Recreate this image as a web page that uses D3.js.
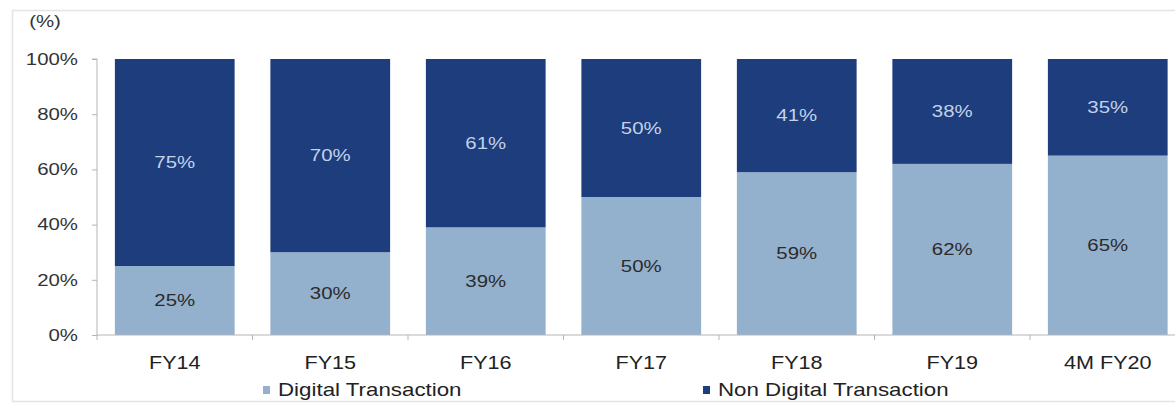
<!DOCTYPE html>
<html>
<head>
<meta charset="utf-8">
<script src="https://cdn.jsdelivr.net/npm/d3@7"></script>
<style>
  html, body { margin: 0; padding: 0; background: #fff; }
  svg { display: block; }
  text { font-family: "Liberation Sans", Arial, sans-serif; }
</style>
</head>
<body>
<svg id="chart" width="1175" height="405"></svg>
<script>
// Share of transactions by channel
const categories = ["FY14", "FY15", "FY16", "FY17", "FY18", "FY19", "4M FY20"];
const digital    = [25, 30, 39, 50, 59, 62, 65];
const nonDigital = [75, 70, 61, 50, 41, 38, 35];
const yTicks     = [0, 20, 40, 60, 80, 100];
const seriesNames = ["Digital Transaction", "Non Digital Transaction"];
const colors = { digital: "#93b0cd", nonDigital: "#1d3d7c" };

const svg = d3.select("#chart");
const W = 1175, H = 405;
const SX = 1.2; // horizontal text stretch
const FS = 18;

// outer frame
svg.append("rect")
  .attr("x", 12.5).attr("y", 10.5)
  .attr("width", W).attr("height", 391)
  .attr("fill", "none").attr("stroke", "#e4e4e4").attr("stroke-width", 1.5);

const m = { left: 97, top: 59, bottom: 335 };
const step = 155.5;
const x = d3.scaleBand()
  .domain(categories)
  .range([m.left, m.left + step * categories.length])
  .paddingInner(0.23).paddingOuter(0.115);
const y = d3.scaleLinear().domain([0, 100]).range([m.bottom, m.top]);

function stretchedText(g, tx, ty, txt, anchor, size, fill, sx) {
  return g.append("text")
    .attr("transform", `translate(${tx},${ty}) scale(${sx || SX},1)`)
    .attr("text-anchor", anchor)
    .attr("dominant-baseline", "central")
    .attr("font-size", size)
    .attr("fill", fill)
    .text(txt);
}

const rows = categories.map((c, i) => ({ cat: c, digital: digital[i], nonDigital: nonDigital[i] }));
const stack = d3.stack().keys(["digital", "nonDigital"])(rows);

const gBars = svg.append("g");
stack.forEach(layer => {
  gBars.selectAll(null).data(layer).enter().append("rect")
    .attr("x", d => x(d.data.cat))
    .attr("width", x.bandwidth())
    .attr("y", d => y(d[1]))
    .attr("height", d => y(d[0]) - y(d[1]))
    .attr("fill", colors[layer.key]);
});

// value labels
const gLab = svg.append("g");
stack.forEach(layer => {
  layer.forEach(d => {
    const v = d.data[layer.key];
    stretchedText(gLab, x(d.data.cat) + x.bandwidth() / 2, (y(d[0]) + y(d[1])) / 2,
      v + "%", "middle", 17, layer.key === "digital" ? "#2b2b2b" : "#c3d2ea");
  });
});

// y axis
const yAxis = d3.axisLeft(y).tickValues(yTicks).tickSize(5).tickFormat(d => d + "%");
const gy = svg.append("g").attr("transform", `translate(${m.left},0)`).call(yAxis);
gy.select(".domain").attr("stroke", "#b5b5b5").attr("d", `M-5,${m.top}H0V${m.bottom}`);
gy.selectAll(".tick line").attr("stroke", "#b5b5b5");
gy.selectAll(".tick text").remove();
yTicks.forEach(t => stretchedText(svg, 78, y(t), t + "%", "end", 17, "#333"));
stretchedText(svg, 45, 21, "(%)", "middle", 17, "#333");

// x axis baseline with ticks between categories
const gx = svg.append("g");
gx.append("line")
  .attr("x1", m.left).attr("x2", W)
  .attr("y1", m.bottom).attr("y2", m.bottom)
  .attr("stroke", "#b5b5b5");
d3.range(categories.length + 1).forEach(i => {
  const xx = m.left + i * step;
  gx.append("line").attr("x1", xx).attr("x2", xx)
    .attr("y1", m.bottom).attr("y2", m.bottom + 5).attr("stroke", "#b5b5b5");
});
categories.forEach(c => stretchedText(gx, x(c) + x.bandwidth() / 2, 363, c, "middle", FS, "#222"));

// legend
const legendPos = [
  { x: 263, key: "digital" },
  { x: 703, key: "nonDigital" }
];
legendPos.forEach((p, i) => {
  svg.append("rect").attr("x", p.x).attr("y", 386).attr("width", 7).attr("height", 8)
    .attr("fill", colors[p.key]);
  stretchedText(svg, p.x + 15, 390, seriesNames[i], "start", FS, "#222", 1.24);
});
</script>
</body>
</html>
